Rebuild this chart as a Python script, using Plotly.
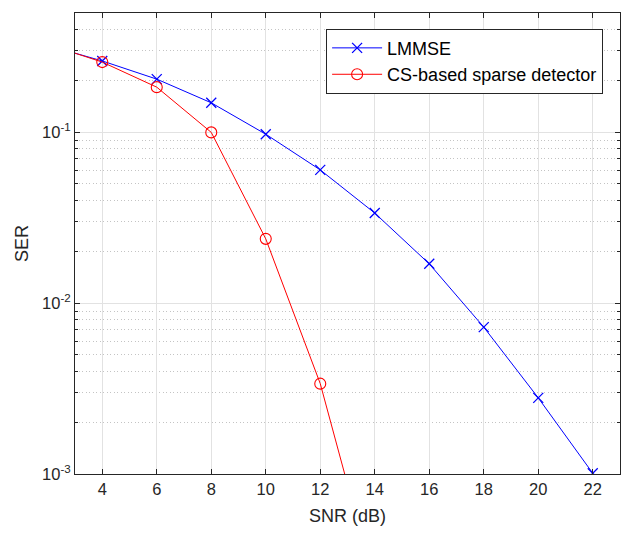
import plotly.graph_objects as go

# ---- data ----
snr_lmmse = [2, 4, 6, 8, 10, 12, 14, 16, 18, 20, 22]
ser_lmmse = [0.323, 0.262, 0.205, 0.149, 0.0976, 0.0603, 0.0337, 0.0170, 0.00724, 0.00279, 0.00101]

snr_cs = [2, 4, 6, 8, 10, 12, 14]
ser_cs = [0.328, 0.258, 0.184, 0.100, 0.0238, 0.00338, 0.000224]

x_ticks = [4, 6, 8, 10, 12, 14, 16, 18, 20, 22]
y_ticks = [0.001, 0.01, 0.1]
y_ticklabels = ["10<sup>-3</sup>", "10<sup>-2</sup>", "10<sup>-1</sup>"]

names = ["LMMSE", "CS-based sparse detector"]

FONT = "Liberation Sans, Arial, Helvetica, sans-serif"
AX = "#262626"

fig = go.Figure()
fig.add_trace(go.Scatter(
    x=snr_lmmse, y=ser_lmmse, mode="lines+markers", name=names[0],
    line=dict(color="#0000ff", width=1),
    marker=dict(symbol="x-thin", size=10, line=dict(color="#0000ff", width=1.3)),
))
fig.add_trace(go.Scatter(
    x=snr_cs, y=ser_cs, mode="lines+markers", name=names[1],
    line=dict(color="#ff0000", width=1),
    marker=dict(symbol="circle-open", size=11, color="#ff0000", line=dict(width=1.1)),
))

fig.update_layout(
    width=627, height=534,
    margin=dict(l=75, r=7, t=13, b=60),
    paper_bgcolor="white", plot_bgcolor="white",
    font=dict(family=FONT, size=16, color=AX),
    showlegend=True,
    legend=dict(
        x=0.969, xanchor="right", y=0.966, yanchor="top",
        bgcolor="white", bordercolor=AX, borderwidth=1,
        font=dict(size=18, color="black"), itemwidth=50,
        tracegroupgap=0,
    ),
)

fig.update_xaxes(
    range=[3, 23], tickvals=x_ticks,
    showline=True, linecolor=AX, linewidth=1, mirror="ticks",
    ticks="inside", ticklen=5, tickcolor=AX,
    showgrid=True, gridcolor="#e2e2e2", gridwidth=1,
    zeroline=False,
    tickfont=dict(size=16.5, color=AX),
    title=dict(text="SNR (dB)", font=dict(size=18, color=AX), standoff=12),
)

fig.update_yaxes(
    type="log", range=[-3, -0.30103],
    tickmode="array", tickvals=y_ticks, ticktext=y_ticklabels,
    showline=True, linecolor=AX, linewidth=1, mirror="ticks",
    ticks="inside", ticklen=5, tickcolor=AX,
    showgrid=True, gridcolor="#e2e2e2", gridwidth=1,
    zeroline=False,
    tickfont=dict(size=16.5, color=AX),
    minor=dict(dtick="D1", ticks="inside", ticklen=3, tickcolor=AX,
               showgrid=True, gridcolor="#c4c4c4", griddash="1px,2.5px", gridwidth=1),
    title=dict(text="SER", font=dict(size=18, color=AX), standoff=8),
)

fig.write_html("out.html")
